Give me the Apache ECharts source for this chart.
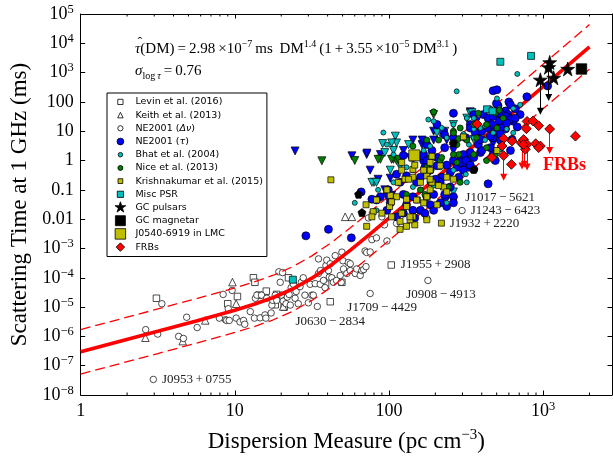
<!DOCTYPE html>
<html><head><meta charset="utf-8">
<script src="https://cdn.jsdelivr.net/npm/echarts@6/dist/echarts.min.js"></script>
<style>html,body{margin:0;padding:0;background:#fff}#c{width:613px;height:461px}</style>
</head><body><div id="c"></div>
<script>
// ---------------- DATA ----------------
const xMajorTicks = [1, 10, 100, 1000];
const xTickBase = ['1', '10', '100', '10'];
const xTickSup = ['', '', '', '3'];
const xMinorTicks = [2,3,4,5,6,7,8,9,20,30,40,50,60,70,80,90,200,300,400,500,600,700,800,900,2000];
const yTickBase = ['10','10','10','10','10','10','0.01','0.1','1','10','100','10','10','10'];
const yTickSup = ['−8','−7','−6','−5','−4','−3','','','','','','3','4','5'];

const fitDM = [1, 1.778, 3.162, 5.623, 10, 13.34, 17.78, 23.71, 31.62, 42.17, 56.23, 74.99, 100, 133.4, 177.8, 237.1, 316.2, 421.7, 562.3, 749.9, 1000, 1334, 1778, 2000];
const fitTau = [2.98e-7, 6.673e-7, 1.495e-6, 3.369e-6, 7.82e-6, 1.242e-5, 2.122e-5, 4.135e-5, 9.70e-5, 2.734e-4, 8.77e-4, 3.022e-3, 1.077e-2, 3.89e-2, 0.1415, 0.516, 1.884, 6.87, 25.07, 91.6, 334.5, 1221, 4461, 7566];
const fitUpper = [1.715e-6, 3.840e-6, 8.602e-6, 1.939e-5, 4.500e-5, 7.147e-5, 1.221e-4, 2.379e-4, 5.581e-4, 1.573e-3, 5.046e-3, 1.739e-2, 6.197e-2, 0.2238, 0.8142, 2.969, 10.84, 39.53, 144.3, 527.1, 1925, 7026, 25670, 43535];
const fitLower = [5.179e-8, 1.160e-7, 2.598e-7, 5.855e-7, 1.359e-6, 2.158e-6, 3.688e-6, 7.186e-6, 1.686e-5, 4.751e-5, 1.524e-4, 5.252e-4, 1.872e-3, 6.760e-3, 2.459e-2, 8.968e-2, 0.3274, 1.194, 4.357, 15.92, 58.13, 212.2, 775.3, 1315];

const levin = [[3.1,2e-5],[9,1.3e-5],[10.4,2.3e-5],[13.2,1.0e-4],[13.5,7e-5],[14.3,2.55e-5],[16,3.5e-5],[18.3,1.2e-5],[18.7,2.7e-5],[20.9,1e-5],[22.3,1.0e-4],[38.8,6e-5],[49.5,7e-5]];
const keith = [[2.63,9e-7],[4.59,6.9e-7],[6.43,3.5e-6],[9.65,7.1e-5],[10.2,1.3e-5],[20.6,1.05e-5],[52,1.2e-2],[57.5,1.2e-2]];
const neDnu = [[2.64,1.7e-6],[3.16,1.2e-6],[3.36,1.3e-5],[4.32,1.0e-6],[4.64,8.5e-7],[4.87,4.5e-6],[5.7,2.0e-6],[7.94,4.2e-6],[8.4,2.7e-5],[8.7,3.7e-6],[8.85,3.5e-6],[9.06,8.8e-6],[9.2,3.5e-6],[9.6,3.7e-5],[10.2,4.2e-6],[10.8,3.1e-6],[11.4,3.5e-6],[11.6,2.6e-6],[12.6,7e-6],[13.4,4.2e-6],[13.6,2e-5],[13.9,2.55e-5],[14.6,4.3e-6],[14.9,2.55e-5],[15.7,5.4e-6],[15.9,4.2e-6],[16.1,2.0e-5],[17.2,6.3e-6],[17.4,1.17e-5],[17.6,1.7e-5],[18.3,2.55e-5],[18.7,1.7e-5],[19.3,1.6e-4],[19.7,7e-5],[20.1,2.55e-5],[20.4,1.5e-4],[20.6,1.6e-5],[21.5,1.3e-5],[21.9,2.2e-5],[22.5,2.7e-5],[22.9,1.17e-5],[23.2,4.6e-5],[24,6e-5],[24.6,2e-5],[25,3.4e-5],[25.8,1.3e-5],[26.5,5e-5],[27,7e-5],[27.8,1.0e-4],[28.5,2.55e-5],[30,1.4e-5],[30.8,6e-5],[31.6,2.55e-5],[32.3,2.55e-5],[33.2,6.3e-5],[34.3,1.05e-5],[34.9,1.4e-4],[34.9,4.4e-4],[35.8,6e-5],[36,1.76e-4],[37.6,8.1e-5],[38.5,4.6e-5],[39,2.6e-4],[39.5,4.0e-4],[40.5,1.76e-4],[41,1.05e-4],[41.6,3.0e-4],[42.6,1.0e-4],[43.6,7e-5],[44.8,5.7e-4],[45.7,8.1e-5],[48.3,1.2e-4],[49,7e-5],[49.5,7.5e-4],[50.3,3.8e-4],[50.7,2.0e-4],[53.3,1.4e-4],[54.5,3.3e-4],[56.1,1.76e-4],[56.1,3.0e-4],[60.4,1.4e-4],[61.8,2e-4],[65.1,1.2e-4],[66.7,1.76e-4],[68.5,1.9e-4],[70,8.2e-4],[71,2.4e-4],[71.7,7.3e-4],[75.5,7.6e-4],[77.5,2.0e-3],[83,2.3e-3],[97,1.8e-3],[73.6,1.1e-2],[90,1.2e-2],[93.5,6.4e-3],[112,7.2e-3],[147,1.4e-2],[171,1.6e-2],[176,1.1e-2]];
const neTau = [[28.9,2.7e-3],[40.5,4.5e-3],[57,2.3e-3],[66,0.085],[88,0.058],[124,1.5],[262,41],[474,240],[502,260],[510,75],[570,49],[590,37],[660,58],[710,37],[785,150],[600,28],[310,1.3],[320,1.0],[330,0.59],[290,1.0],[355,0.5],[392,1.87],[380,3.5],[315,6],[230,2.75],[237,0.7],[205,1.27],[220,0.27],[168,1.0],[176,0.4],[160,0.27],[151,0.18],[130,0.3],[112,0.34],[118,0.18],[124,0.07],[143,0.058],[176,0.058],[195,0.07],[215,0.18],[262,0.058],[232,0.058],[250,0.125],[160,0.02],[185,0.031],[130,0.031],[105,0.058],[99,0.1],[83,0.045],[97,0.02],[205,17],[226,10],[355,37],[370,8.8],[455,14],[474,6],[392,10],[337,17],[528,37],[640,22],[680,14],[570,12],[455,2.75],[528,5],[474,1.6],[490,1.0],[614,2.2],[337,1.87],[284,0.27],[298,0.7],[276,0.59],[304,1.6],[262,6],[230,7.5],[168,1.6],[143,1.27],[176,3.5],[190,2.2],[185,0.47],[200,0.23],[102,0.036],[77.5,0.048],[230,0.07],[262,0.036],[237,0.027],[215,0.036],[195,0.02],[171,0.016],[143,0.02],[124,0.016],[112,0.012],[147,0.011],[1070,350],
  [498,89],[600,100],[614,80],[410,37],[440,28],[474,32],[528,41],[570,32],[614,25],[660,28],[580,19],[520,22],[465,17],[528,12.9],[433,12.9],[490,10],[400,10],[337,12.9],[363,8.8],[392,5.2],[455,6.8],[528,8],[630,5.2],[400,2.2],[355,1.27],[164,1.5],[176,1.0],[171,0.59],[205,0.66],[262,1.0],[290,0.86],[315,1.0],[337,0.7],[304,0.47],[250,0.4]];
const bhat = [[680,900],[275,230],[92,9],[195,22],[220,13],[320,28],[355,28],[455,60],[520,60],[474,8.8],[392,12.9],[580,12],[640,60],[237,6],[262,8.8],[304,8],[330,3.5],[380,17],[420,5],[355,6],[550,5],[710,80],[502,131],[168,2.2],[185,3.1],[97,3.5],[107,1.6],[118,0.7],[130,0.59],[143,0.47],[215,0.59],[262,0.47],[315,0.34],[195,0.14],[143,0.125],[107,0.18],[85,0.1],[60,0.036],[83,0.02],[237,0.036],[320,0.18],[640,8.8],[528,2.4],[180,25],[262,17],[355,12],[420,15]];
const nice = [[195,46],[262,10],[276,3.5],[380,41],[355,17],[290,12.9],[430,17],[490,41],[550,28],[502,12.9],[176,5],[210,5],[284,1.6],[320,5],[215,1.0],[220,1.27],[143,3.1],[185,1.27],[262,1.6],[430,1.0],[355,1.6],[276,0.86],[176,0.59],[171,0.07],[243,0.125],[130,0.07],[160,0.1],[185,0.18],[290,0.18],[490,1.6],[430,2.75],[370,6],[520,52],[262,8.8],[284,5.6]];
const krish = [[42,0.22],[71,0.031],[79,0.018],[77.5,0.012],[90,0.016],[101,0.027],[104,0.012],[118,0.0084],[121,0.016],[130,0.027],[143,0.012],[153,0.045],[168,0.036],[176,0.058],[185,0.1],[205,0.031],[226,0.125],[237,0.085],[130,0.048],[112,0.058],[102,0.065],[97,0.1],[115,0.18],[127,0.23],[143,0.27],[160,0.18],[176,0.3],[190,0.18],[210,0.14],[185,0.47],[143,0.5],[121,0.47],[121,0.86],[185,0.86],[502,2.2],[104,0.039],[83,0.045],[147,0.0064],[137,0.0095],[118,0.0045],[130,0.0057],[176,0.0095],[71.7,0.0057],[147,0.7],[134,0.23],[168,0.47],[185,0.23],[237,0.27],[262,0.23],[304,6.4],[151,0.045],[137,0.012],[190,1.4],[215,0.66]];
const miscPsr = [[528,2340],[836,3720],[433,56],[470,48],[23.8,8.6e-5]];
const gcPulsars = [[1104,2230],[1087,1520],[1445,1330],[1172,664],[960,569]];
const gcMagnetar = [[1775,1330]];
const lmcPsr = [[146,1.5]];
const frbs = [[373,17.6],[465,1.27],[555,5.65],[542,3.14],[555,1.48],[623,0.74],[629,4.6],[720,4.05],[748,5.2],[787,3.55],[767,2.41],[787,21.7],[861,22.4],[779,12.2],[936,15.4],[1104,11.9],[895,3.75],[960,3.14],[1622,6.8],[745,3.5],[936,2.75]];
const neTauLim = [[24.6,2.13],[57.5,1.45],[71.7,1.6],[88,1.6],[124,2.2],[164,3.5],[195,10],[262,2.2],[75.5,0.47],[94,0.1],[97,0.058],[195,5],[337,46],[370,22],[262,0.045],[143,5],[85,0.23],[72,1.8],[104,0.065],[237,5],[474,3.8],[164,5],[137,1.27],[102,0.25]];
const bhatLim = [[110,6.8],[107,2.2],[80,0.18],[262,17],[337,41],[215,8.8],[320,28],[112,4],[94,1.87],[134,3.5],[91,3.8],[104,4],[77.5,0.18],[205,8.8],[392,5],[102,0.47],[262,0.085],[83,0.18],[346,43],[230,10],[355,5.2]];
const niceLim = [[36.7,0.98],[60,1.0],[88,1.1],[107,1.1],[112,1.0],[195,37],[85,1.1],[115,1.1],[104,1.1]];
const otherPsr = [[63.5,0.071],[66.8,0.0168],[355,0.5],[262,4]];

const frbLimDM = [555, 730, 755, 787, 1104];
const frbLimFrom = [1.48, 3.5, 2.6, 2.4, 11.9];
const frbLimTo = [0.27, 0.65, 0.75, 0.6, 2.18];
const gcLimDM = [960, 1087];
const gcLimFrom = [569, 1520];
const gcLimTo = [48, 142];

const namedPsr = ['J0953\u2009+\u20090755','J1709\u2009\u2212\u20094429','J0908\u2009\u2212\u20094913','J1243\u2009\u2212\u20096423','J1017\u2009\u2212\u20095621','J1932\u2009+\u20092220','J1955\u2009+\u20092908','J0630\u2009\u2212\u20092834'];
const namedDM = [2.96, 75.5, 179, 298, 440, 219, 103.5, 41.6];
const namedTau = [3.4e-8, 2.9e-5, 8.1e-5, 0.0196, 0.16, 7.3e-3, 2.73e-4, 1.52e-5];
const namedGroup = ['neDnu','neDnu','neDnu','neDnu','neTau','krish','levin','levin'];

// ---------------- STYLE / LAYOUT ----------------
const SERIF = '"Liberation Serif", "DejaVu Serif", serif';
const SANS = '"DejaVu Sans", sans-serif';
const CYAN = '#00bfbf', YEL = '#bfbf00', GRN = '#008000', BLUE = '#0000ff', RED = '#ff0000';
const labelLayout = {
  0: {position: 'right', distance: 5},
  1: {position: 'bottom', distance: 4, offset: [12, 0]},
  2: {position: 'bottom', distance: 4, offset: [13, 0]},
  3: {position: 'right', distance: 5},
  4: {position: 'bottom', distance: 3, offset: [12, 0]},
  5: {position: 'right', distance: 5},
  6: {position: 'right', distance: 6},
  7: {position: 'bottom', distance: 10, offset: [0, 0]}
};
const starPath = 'path://M10 0L12.245 6.91L19.511 6.91L13.633 11.18L15.878 18.09L10 13.82L4.122 18.09L6.367 11.18L0.489 6.91L7.755 6.91Z';
const pentPath = 'path://M10 0L19.51 6.91L15.88 18.09L4.12 18.09L0.49 6.91Z';

function withNamed(arr, group) {
  const d = arr.map(p => [p[0], p[1]]);
  namedPsr.forEach((n, i) => {
    if (namedGroup[i] !== group) return;
    const L = labelLayout[i];
    d.push({value: [namedDM[i], namedTau[i]], label: Object.assign({show: true, formatter: n, fontFamily: SERIF, fontSize: 13, color: '#222'}, L)});
  });
  return d;
}
function scat(name, data, symbol, size, color, z, extra) {
  return Object.assign({
    type: 'scatter', name: name, data: data, symbol: symbol, symbolSize: size, z: z,
    itemStyle: {color: color, borderColor: '#000', borderWidth: 0.7, opacity: 1},
    emphasis: {disabled: true}, silent: true, animation: false
  }, extra || {});
}
function zip(a, b) { return a.map((v, i) => [v, b[i]]); }
function limLines(dm, from, to) {
  return dm.map((v, i) => ({coords: [[v, from[i]], [v, to[i]]]}));
}
// legend icons in 32x24 box (16x12 px)
const B = 'path://M0 0M32 24';
const lsq = s => `${B}M${12-s/2} ${12-s/2}L${12+s/2} ${12-s/2}L${12+s/2} ${12+s/2}L${12-s/2} ${12+s/2}Z`;
const lci = d => { const r = d / 2; return `${B}M${12-r} 12A${r} ${r} 0 1 0 ${12+r} 12A${r} ${r} 0 1 0 ${12-r} 12Z`; };
const ltri = s => `${B}M12 ${12-s/2}L${12+s/2} ${12+s/2}L${12-s/2} ${12+s/2}Z`;
const ldia = s => `${B}M12 ${12-s}L${12+s} 12L12 ${12+s}L${12-s} 12Z`;
const lstar = `${B}M12 0.5L14.6 8.3L22.8 8.3L16.1 13.2L18.7 21.2L12 16.3L5.3 21.2L7.9 13.2L1.2 8.3L9.4 8.3Z`;

const legendItems = [
  {name: 'Levin et al. (2016)', icon: lsq(10.5), itemStyle: {color: '#fff'}},
  {name: 'Keith et al. (2013)', icon: ltri(11), itemStyle: {color: '#fff'}},
  {name: 'NE2001 (Δν)', icon: lci(10.5), itemStyle: {color: '#fff'}},
  {name: 'NE2001 (τ)', icon: lci(13.5), itemStyle: {color: BLUE}},
  {name: 'Bhat et al. (2004)', icon: lci(9), itemStyle: {color: CYAN}},
  {name: 'Nice et al. (2013)', icon: lci(10), itemStyle: {color: GRN}},
  {name: 'Krishnakumar et al. (2015)', icon: lsq(9.5), itemStyle: {color: YEL}},
  {name: 'Misc PSR', icon: lsq(12.5), itemStyle: {color: CYAN}},
  {name: 'GC pulsars', icon: lstar, itemStyle: {color: '#000'}},
  {name: 'GC magnetar', icon: lsq(20), itemStyle: {color: '#000'}},
  {name: 'J0540-6919 in LMC', icon: lsq(21), itemStyle: {color: YEL}},
  {name: 'FRBs', icon: ldia(8.5), itemStyle: {color: RED}}
];
legendItems.forEach(it => { it.itemStyle.borderColor = '#000'; it.itemStyle.borderWidth = 0.8; });

const Y_MIN = 1e-8, Y_MAX = 1e5, X_MIN = 1, X_MAX = 2800;

function xLabel(v) {
  const e = Math.log10(v), r = Math.round(e);
  if (Math.abs(e - r) > 1e-6 || r < 0 || r > 3) return '';
  return xTickSup[r] ? `{n|${xTickBase[r]}}{s|${xTickSup[r]}}` : `{n|${xTickBase[r]}}`;
}
function yLabel(v) {
  const e = Math.log10(v), r = Math.round(e);
  if (Math.abs(e - r) > 1e-6) return '';
  const i = r + 8;
  if (i < 0 || i >= yTickBase.length) return '';
  return yTickSup[i] ? `{n|${yTickBase[i]}}{s|${yTickSup[i]}}` : `{n|${yTickBase[i]}}`;
}
const tickRich = {
  n: {fontFamily: SERIF, fontSize: 18, lineHeight: 22, color: '#000'},
  s: {fontFamily: SERIF, fontSize: 12.5, lineHeight: 11, verticalAlign: 'top', color: '#000'}
};
const axCommon = {
  type: 'log', logBase: 10, splitLine: {show: false},
  axisLine: {show: true, lineStyle: {color: '#000', width: 1}},
  axisTick: {show: true, inside: true, length: 4.5, lineStyle: {color: '#000', width: 1}},
  minorTick: {show: false}
};

const chart = echarts.init(document.getElementById('c'), null, {renderer: 'canvas'});
const option = {
  animation: false,
  backgroundColor: '#fff',
  grid: {left: 80.7, right: 1, top: 14, bottom: 59.5, containLabel: false},
  xAxis: [
    Object.assign({}, axCommon, {
      min: X_MIN, max: X_MAX, interval: 1, splitNumber: 4, position: 'bottom',
      axisLabel: {show: true, margin: 5, formatter: xLabel, rich: tickRich, showMaxLabel: false},
      name: 'Dispersion Measure (pc cm{s|−3})', nameLocation: 'middle', nameGap: 33,
      nameTextStyle: {fontFamily: SERIF, fontSize: 23, lineHeight: 28, color: '#000',
        rich: {s: {fontFamily: SERIF, fontSize: 15, lineHeight: 14, verticalAlign: 'top', color: '#000'}}}
    }),
    Object.assign({}, axCommon, {min: X_MIN, max: X_MAX, interval: 1, splitNumber: 4, position: 'top', axisLabel: {show: false}})
  ],
  yAxis: [
    Object.assign({}, axCommon, {
      min: Y_MIN, max: Y_MAX, interval: 1, splitNumber: 13, position: 'left',
      axisLabel: {show: true, margin: 7, formatter: yLabel, rich: tickRich},
      name: 'Scattering Time at 1 GHz (ms)', nameLocation: 'middle', nameGap: 47, nameRotate: 90,
      nameTextStyle: {fontFamily: SERIF, fontSize: 23, color: '#000'}
    }),
    Object.assign({}, axCommon, {min: Y_MIN, max: Y_MAX, interval: 1, splitNumber: 13, position: 'right', axisLabel: {show: false}})
  ],
  legend: {
    data: legendItems, orient: 'vertical', left: 107, top: 93, z: 20,
    itemWidth: 16, itemHeight: 12, itemGap: 0.4, symbolKeepAspect: true,
    padding: [2.5, 4, 3, 7], backgroundColor: '#fff', borderColor: '#000', borderWidth: 1, borderRadius: 0,
    selectedMode: false,
    formatter: function (n) {
      if (n === 'NE2001 (Δν)') return 'NE2001 ({i|Δν})';
      if (n === 'NE2001 (τ)') return 'NE2001 ({i|τ})';
      return n;
    },
    textStyle: {fontFamily: SANS, fontSize: 9.5, color: '#000', padding: [0, 0, 0, 0],
      rich: {i: {fontFamily: SANS, fontSize: 9.5, fontStyle: 'italic', color: '#000'}}}
  },
  graphic: [
    {type: 'text', left: 135, top: 39, z: 30, style: {
      text: '{t|τ}(DM)\u2009=\u20092.98\u2009×10{s|−7}\u2009ms\u2009 DM{s|1.4}\u2009(1\u2009+\u20093.55\u2009×10{s|−5}\u2009DM{s|3.1}\u2009)',
      fill: '#000', fontFamily: SERIF, fontSize: 15, lineHeight: 20,
      rich: {t: {fontFamily: SERIF, fontSize: 15, fontStyle: 'italic', lineHeight: 20},
             s: {fontFamily: SERIF, fontSize: 10, lineHeight: 10, verticalAlign: 'top'}}}},
    {type: 'text', left: 137.5, top: 36.5, z: 31, style: {
      text: '\u02C6', fill: '#000', fontFamily: SERIF, fontSize: 14}},
    {type: 'text', left: 135, top: 61, z: 30, style: {
      text: '{t|σ}{b|log\u2009}{bt|τ}\u2009=\u20090.76',
      fill: '#000', fontFamily: SERIF, fontSize: 15, lineHeight: 20,
      rich: {t: {fontFamily: SERIF, fontSize: 15, fontStyle: 'italic', lineHeight: 20},
             b: {fontFamily: SERIF, fontSize: 10, lineHeight: 10, verticalAlign: 'bottom'},
             bt: {fontFamily: SERIF, fontSize: 10, fontStyle: 'italic', lineHeight: 10, verticalAlign: 'bottom'}}}},
    {type: 'text', left: 543, top: 156, z: 30, style: {
      text: 'FRBs', fill: RED, fontFamily: SERIF, fontSize: 18, fontWeight: 'bold'}}
  ],
  series: [
    {type: 'custom', name: 'minorTicks', silent: true, z: 10, clip: false,
     data: xMinorTicks.map(v => [v, Y_MIN]),
     renderItem: function (params, api) {
       const v = api.value(0);
       const pb = api.coord([v, Y_MIN]);
       const pt = api.coord([v, Y_MAX]);
       const st = {stroke: '#000', lineWidth: 1};
       return {type: 'group', children: [
         {type: 'line', shape: {x1: pb[0], y1: pb[1], x2: pb[0], y2: pb[1] - 2.5}, style: st},
         {type: 'line', shape: {x1: pt[0], y1: pt[1], x2: pt[0], y2: pt[1] + 2.5}, style: st}
       ]};
     }},
    scat('Levin et al. (2016)', withNamed(levin, 'levin'), 'rect', 6.5, '#fff', 2),
    scat('Keith et al. (2013)', keith, 'triangle', 7.5, '#fff', 2),
    scat('NE2001 (Δν)', withNamed(neDnu, 'neDnu'), 'circle', 6.5, '#fff', 2),
    {type: 'line', name: 'fit', data: zip(fitDM, fitTau), showSymbol: false, symbol: 'none', z: 3, silent: true,
     lineStyle: {color: RED, width: 3.6}, animation: false},
    {type: 'line', name: 'fitUp', data: zip(fitDM, fitUpper), showSymbol: false, symbol: 'none', z: 3, silent: true,
     lineStyle: {color: RED, width: 1.3, type: [10, 5]}, animation: false},
    {type: 'line', name: 'fitLo', data: zip(fitDM, fitLower), showSymbol: false, symbol: 'none', z: 3, silent: true,
     lineStyle: {color: RED, width: 1.3, type: [10, 5]}, animation: false},
    scat('NE2001 (τ) limits', neTauLim, 'triangle', 8, BLUE, 4, {symbolRotate: 180}),
    scat('Bhat limits', bhatLim, 'triangle', 8, CYAN, 4, {symbolRotate: 180}),
    scat('Nice limits', niceLim, 'triangle', 8, GRN, 4, {symbolRotate: 180}),
    scat('NE2001 (τ)', withNamed(neTau, 'neTau'), 'circle', 8, BLUE, 4),
    scat('Bhat et al. (2004)', bhat, 'circle', 5, CYAN, 4),
    scat('Nice et al. (2013)', nice, 'circle', 6, GRN, 4),
    scat('Krishnakumar et al. (2015)', withNamed(krish, 'krish'), 'rect', 6, YEL, 4),
    scat('other', otherPsr, pentPath, 8, '#000', 4),
    scat('Misc PSR', miscPsr, 'rect', 7, CYAN, 4),
    scat('J0540-6919 in LMC', lmcPsr, 'rect', 11, YEL, 5),
    {type: 'lines', coordinateSystem: 'cartesian2d', name: 'frbLim', z: 5, silent: true,
     data: limLines(frbLimDM, frbLimFrom, frbLimTo), symbol: ['none', 'triangle'], symbolSize: [5, 7],
     lineStyle: {color: RED, width: 1, opacity: 1}, itemStyle: {color: RED}},
    {type: 'lines', coordinateSystem: 'cartesian2d', name: 'gcLim', z: 5, silent: true,
     data: limLines(gcLimDM, gcLimFrom, gcLimTo), symbol: ['none', 'triangle'], symbolSize: [5, 7],
     lineStyle: {color: '#000', width: 1, opacity: 1}, itemStyle: {color: '#000'}},
    scat('FRBs', frbs, 'rect', 7, RED, 6, {symbolRotate: 45}),
    scat('GC pulsars', gcPulsars, starPath, 14, '#000', 7),
    scat('GC magnetar', gcMagnetar, 'rect', 10.5, '#000', 7)
  ]
};
chart.setOption(option);
</script></body></html>
